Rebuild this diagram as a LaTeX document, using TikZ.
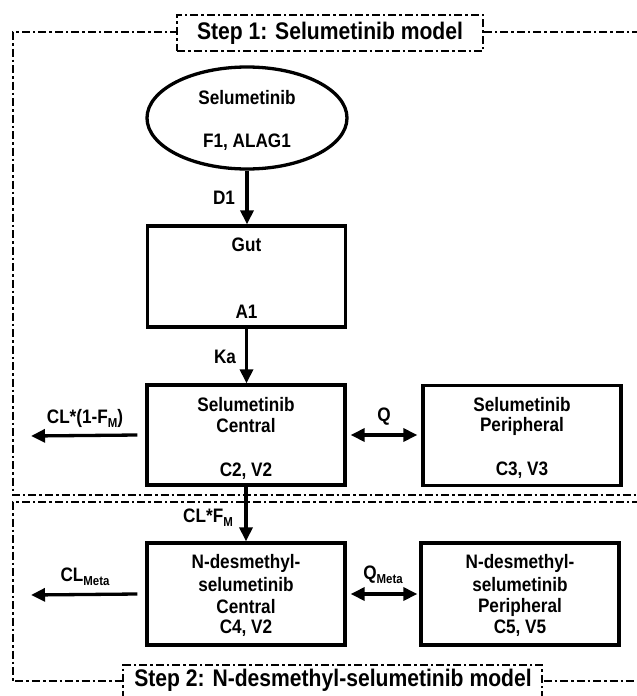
\documentclass[tikz,border=0pt]{standalone}
\usepackage{fontspec}
\setmainfont{Liberation Sans}[FakeStretch=0.88]
\usetikzlibrary{arrows.meta,shapes.geometric}
\newcommand\msub[1]{\raisebox{-0.4ex}{\fontsize{13}{13}\selectfont #1}}
\begin{document}
\begin{tikzpicture}[x=1pt,y=-1pt,
  font=\fontsize{19.5}{22}\selectfont\bfseries,
  box/.style={draw,line width=3.3pt,minimum width=198pt,minimum height=100pt,inner sep=0pt},
  frameline/.style={line width=2.4pt,dash pattern=on 8pt off 3pt on 2.5pt off 3pt},
  lab/.style={inner sep=0pt},
  arr/.style={line width=3.3pt,-{Triangle[length=14pt,width=13pt]}},
  darr/.style={line width=3.3pt,{Triangle[length=14pt,width=13pt]}-{Triangle[length=14pt,width=13pt]}},
  steplabel/.style={draw,fill=white,frameline,font=\fontsize{24}{26}\selectfont\bfseries,inner sep=0pt}
]
\useasboundingbox[fill=white] (0,0) rectangle (637,696);
% frames
\draw[frameline] (640,32) -- (13,32) -- (13,495) -- (640,495);
\draw[frameline] (640,502) -- (13,502) -- (13,681) -- (640,681);
\node[steplabel,minimum width=306pt,minimum height=36pt] (s1) at (330,33) {Step 1: Selumetinib model};
\node[steplabel,minimum width=419pt,minimum height=44pt] (s2) at (332.5,687) {};
\node[lab,font=\fontsize{24}{26}\selectfont\bfseries] (s2t) at (333,680) {Step 2: N-desmethyl-selumetinib model};
% compartments
\node[draw,ellipse,line width=3.3pt,minimum width=200pt,minimum height=102pt,inner sep=0pt] (drug) at (247,118) {};
\node[lab] (drugA) at (247,98) {Selumetinib};
\node[lab] (drugB) at (247,142) {F1, ALAG1};
\node[box,minimum height=101pt] (gut) at (246.5,276.5) {};
\node[lab] (gutA) at (246.5,245) {Gut};
\node[lab] (gutB) at (246.5,312) {A1};
\node[box] (cen) at (246,435) {};
\node[lab] (cenA) at (246,405) {Selumetinib};
\node[lab] (cenB) at (246,426) {Central};
\node[lab] (cenC) at (246,471) {C2, V2};
\node[box] (per) at (522,435.5) {};
\node[lab] (perA) at (522,405) {Selumetinib};
\node[lab] (perB) at (522,426) {Peripheral};
\node[lab] (perC) at (522,470) {C3, V3};
\node[box,minimum height=102pt] (ncen) at (246,594) {};
\node[lab] (ncenA) at (246,563) {N-desmethyl-};
\node[lab] (ncenB) at (246,585) {selumetinib};
\node[lab] (ncenC) at (246,607) {Central};
\node[lab] (ncenD) at (246,628) {C4, V2};
\node[box,minimum height=102pt] (nper) at (520,594) {};
\node[lab] (nperA) at (520,563) {N-desmethyl-};
\node[lab] (nperB) at (520,585) {selumetinib};
\node[lab] (nperC) at (520,607) {Peripheral};
\node[lab] (nperD) at (520,628) {C5, V5};
% connectors
\draw[arr] (drug.south) -- (drug.south |- gut.north);
\draw[arr] (gut.south) -- (gut.south |- cen.north);
\draw[arr] (cen.south) -- (cen.south |- ncen.north);
\coordinate (clend) at (31,436);
\coordinate (clmend) at (31,595);
\draw[arr] ([xshift=-8pt]cen.west) -- (clend);
\draw[arr] ([xshift=-8pt]ncen.west) -- (clmend);
\draw[darr] ([xshift=4pt]cen.east) -- ([xshift=-4pt]cen.east -| per.west);
\draw[darr] ([xshift=4pt]ncen.east) -- ([xshift=-2pt]ncen.east -| nper.west);
% labels
\node[lab] (d1) at (224,198) {D1};
\node[lab] (ka) at (225,357) {Ka};
\node[lab] (cl1) at (85,418) {CL*(1-F\msub{M})};
\node[lab] (q) at (384,417) {Q};
\node[lab] (cl2) at (208,518) {CL*F\msub{M}};
\node[lab] (clm) at (85,577) {CL\msub{Meta}};
\node[lab] (qm) at (383,575) {Q\msub{Meta}};
\end{tikzpicture}
\end{document}
